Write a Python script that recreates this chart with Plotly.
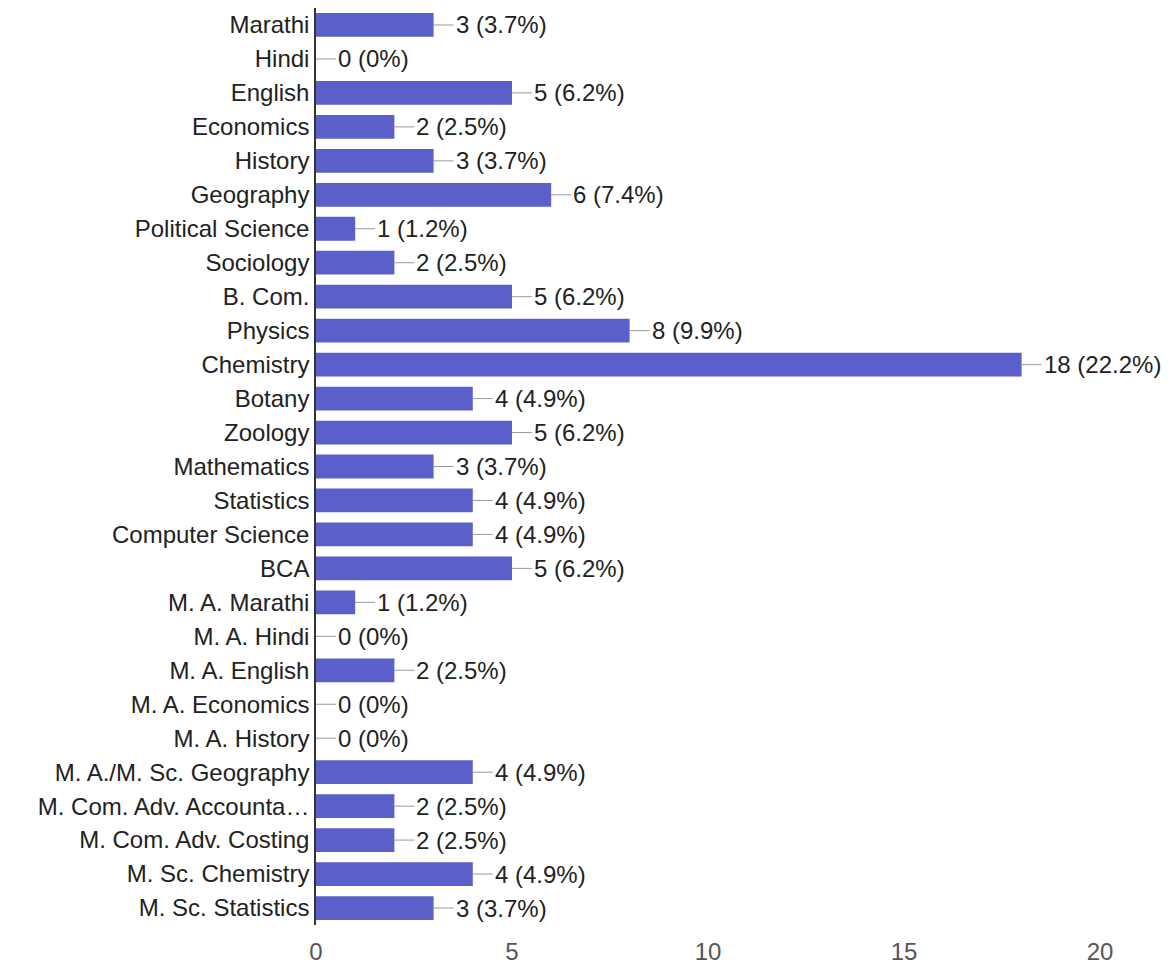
import plotly.graph_objects as go

categories = [
    "Marathi", "Hindi", "English", "Economics", "History", "Geography",
    "Political Science", "Sociology", "B. Com.", "Physics", "Chemistry",
    "Botany", "Zoology", "Mathematics", "Statistics", "Computer Science",
    "BCA", "M. A. Marathi", "M. A. Hindi", "M. A. English", "M. A. Economics",
    "M. A. History", "M. A./M. Sc. Geography", "M. Com. Adv. Accounta…",
    "M. Com. Adv. Costing", "M. Sc. Chemistry", "M. Sc. Statistics",
]
counts = [3, 0, 5, 2, 3, 6, 1, 2, 5, 8, 18, 4, 5, 3, 4, 4, 5, 1, 0, 2, 0, 0, 4, 2, 2, 4, 3]
percents = ["3.7", "0", "6.2", "2.5", "3.7", "7.4", "1.2", "2.5", "6.2", "9.9", "22.2",
            "4.9", "6.2", "3.7", "4.9", "4.9", "6.2", "1.2", "0", "2.5", "0", "0",
            "4.9", "2.5", "2.5", "4.9", "3.7"]
x_ticks = [0, 5, 10, 15, 20]

FONT = "Liberation Sans, Arial, sans-serif"
BAR = "#5b5fca"
FS = 24

fig = go.Figure(go.Bar(
    x=counts, y=categories, orientation="h",
    marker=dict(color=BAR, line=dict(width=0)),
    hoverinfo="skip",
))

for c, v, p in zip(categories, counts, percents):
    fig.add_annotation(
        x=v, y=c, xref="x", yref="y",
        text=f"{v} ({p}%)",
        showarrow=True, arrowhead=0, arrowwidth=1, arrowcolor="#9a9a9a",
        ax=20, ay=0, xanchor="left",
        font=dict(family=FONT, size=FS, color="#222222"),
        standoff=0,
    )

# page body has an 8px margin, so the figure is sized to fit the window
fig.update_layout(
    width=1167, height=962,
    margin=dict(l=308, r=75, t=0, b=45),
    paper_bgcolor="white", plot_bgcolor="white",
    bargap=0.3,
    showlegend=False,
    font=dict(family=FONT, size=FS, color="#222222"),
)
fig.update_xaxes(
    range=[0, 20], tickvals=x_ticks, showgrid=False, zeroline=False,
    showline=False, ticks="", tickfont=dict(size=FS, color="#555555"),
    ticklabelstandoff=10, fixedrange=True,
)
fig.update_yaxes(
    categoryorder="array", categoryarray=categories, autorange="reversed",
    showgrid=False, zeroline=False, showline=True, linecolor="#333333",
    linewidth=1.5, ticks="", tickfont=dict(size=FS, color="#222222"),
    ticklabelstandoff=0, fixedrange=True,
)

fig.write_html("out.html")
